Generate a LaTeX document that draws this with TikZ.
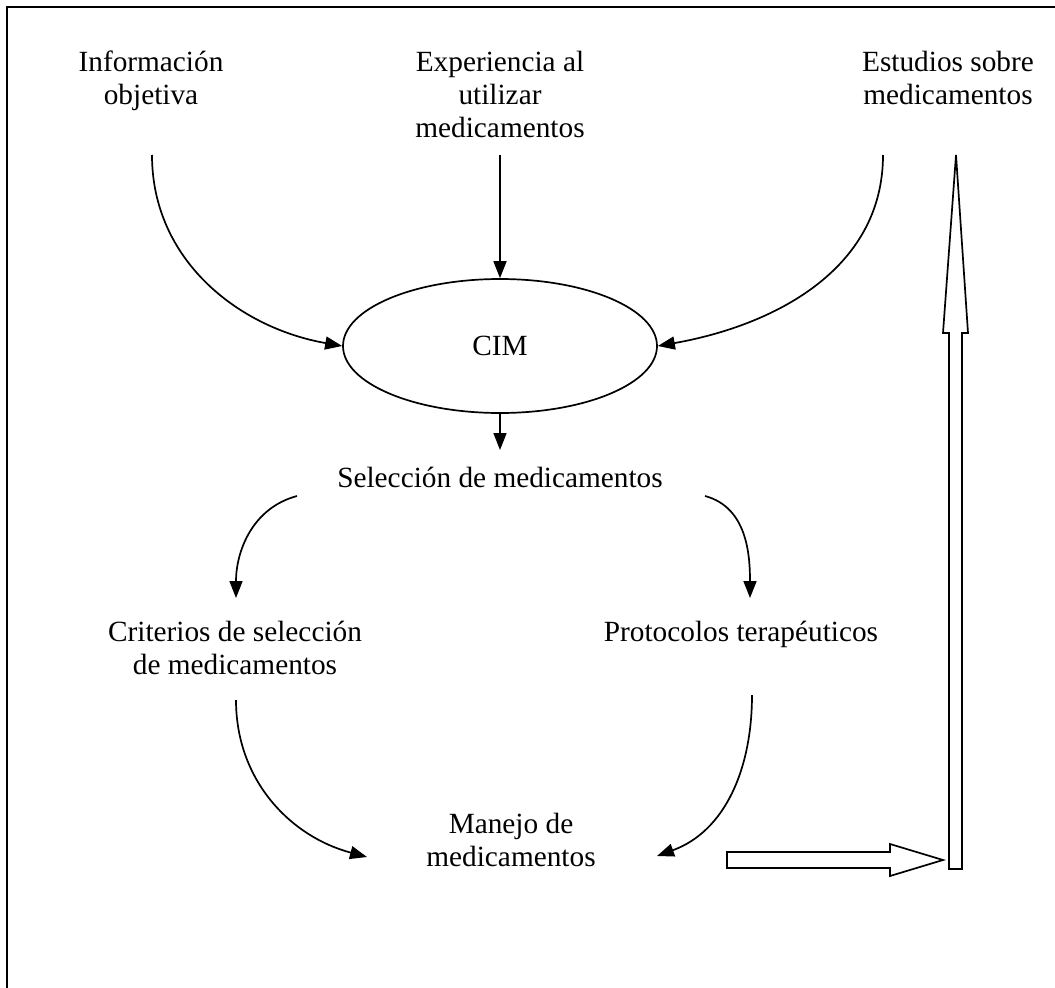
\documentclass[tikz,border=0pt]{standalone}
\usepackage{fontspec}
\setmainfont{Liberation Serif}
\usetikzlibrary{arrows.meta,shapes.geometric}

\begin{document}
\begin{tikzpicture}[x=1pt,y=1pt,
	lbl/.style={align=center,inner sep=0pt,font=\fontsize{29.3}{33}\selectfont},
	arr/.style={-{Triangle[length=17pt,width=13pt]},line width=1.7pt},
	hollow/.style={draw,fill=white,line width=1.7pt,line join=miter}]
	\useasboundingbox (0,0) rectangle (1055,-988);
	\draw[line width=2.4pt] (7,-988) |- (1055,-7);
	% textos (base = ultima linea)
	\node[lbl,anchor=base] (info) at (151,-104) {Información\\objetiva};
	\node[lbl,anchor=base] (exper) at (500,-137) {Experiencia al\\utilizar\\medicamentos};
	\node[lbl,anchor=base] (estud) at (948,-104) {Estudios sobre\\medicamentos};
	\node[lbl,draw,ellipse,line width=1.7pt,minimum width=314pt,minimum height=134pt] (cim) at (500,-346) {CIM};
	\node[lbl,anchor=base] (sel) at (500,-487) {Selección de medicamentos};
	\node[lbl,anchor=base] (crit) at (235,-674) {Criterios de selección\\de medicamentos};
	\node[lbl,anchor=base] (prot) at (741,-641) {Protocolos terapéuticos};
	\node[lbl,anchor=base] (manejo) at (511,-866) {Manejo de\\medicamentos};
	% extremos
	\coordinate (info-out) at (152,-155);
	\coordinate (exper-out) at (500,-155);
	\coordinate (estud-out) at (883,-155);
	\coordinate (sel-in) at (500,-450);
	\coordinate (sel-l) at (297,-496);
	\coordinate (sel-r) at (705,-496);
	\coordinate (crit-in) at (236,-598);
	\coordinate (prot-in) at (750,-598);
	\coordinate (crit-out) at (236,-700);
	\coordinate (prot-out) at (752,-695);
	\coordinate (manejo-l) at (367,-857);
	\coordinate (manejo-r) at (657,-856);
	% flechas
	\draw[arr] (info-out) to[out=-90,in=170] (cim.west);
	\draw[arr] (exper-out) -- (cim.north);
	\draw[arr] (estud-out) to[out=-90,in=10] (cim.east);
	\draw[arr] (cim.south) -- (sel-in);
	\draw[arr] (sel-l) to[out=195,in=90] (crit-in);
	\draw[arr] (sel-r) to[out=-15,in=90] (prot-in);
	\draw[arr] (crit-out) to[out=-90,in=165] (manejo-l);
	\draw[arr] (prot-out) to[out=-90,in=20] (manejo-r);
	\draw[hollow] (727,-852) -- (890,-852) -- (890,-844) -- (943,-860) -- (890,-876) -- (890,-868) -- (727,-868) -- cycle;
	\draw[hollow] (949,-869) -- (949,-333) -- (943,-333) -- (956,-155) -- (968,-333) -- (962,-333) -- (962,-869) -- cycle;
\end{tikzpicture}
\end{document}
